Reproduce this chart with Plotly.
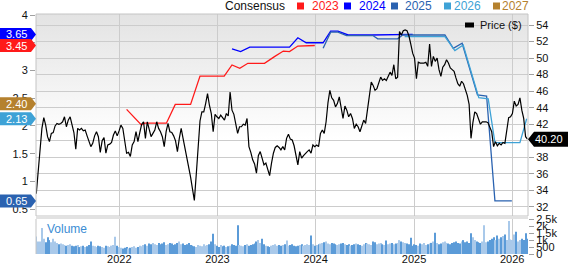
import base64
import pandas as pd
import plotly.graph_objects as go

# ---------------- data ----------------
price_start = "2021-02-26"  # weekly closes
price = [
    33.6, 36.0, 38.8, 41.5, 42.8, 41.9, 40.5, 39.9, 40.9, 41.0,
    41.8, 42.1, 42.0, 42.1, 42.3, 42.9, 41.7, 42.5, 42.9, 41.9,
    41.0, 39.0, 41.5, 41.3, 41.5, 41.2, 41.3, 40.6, 39.9, 39.3,
    39.7, 40.6, 41.1, 40.5, 38.6, 40.0, 40.4, 38.5, 39.5, 39.6,
    39.8, 40.7, 41.2, 40.6, 41.2, 41.9, 41.5, 39.9, 38.5, 38.6,
    38.1, 39.5, 39.9, 41.1, 39.9, 41.0, 42.0, 42.3, 40.3, 42.3,
    41.5, 40.5, 40.9, 41.3, 42.3, 41.5, 41.1, 40.5, 39.3, 41.1,
    42.1, 41.1, 41.0, 40.6, 40.0, 38.7, 40.3, 41.5, 40.3, 39.1,
    38.3, 37.0, 35.6, 34.2, 32.8, 35.9, 39.5, 42.4, 43.5, 43.5,
    44.5, 45.7, 44.3, 43.3, 41.1, 43.2, 42.9, 42.7, 43.1, 42.8,
    42.5, 43.3, 43.0, 45.9, 43.7, 43.2, 42.1, 40.9, 41.7, 41.7,
    42.0, 41.9, 42.7, 39.3, 38.6, 37.7, 37.2, 36.1, 38.2, 38.7,
    37.9, 37.1, 37.3, 36.5, 35.8, 37.3, 38.5, 39.2, 39.4, 39.2,
    38.9, 39.3, 38.9, 40.3, 40.8, 40.2, 40.1, 39.4, 38.2, 37.1,
    38.7, 37.9, 38.2, 38.5, 38.7, 38.9, 38.5, 39.5, 39.3, 39.5,
    39.3, 40.9, 41.3, 40.9, 42.3, 44.6, 46.1, 45.2, 44.9, 44.1,
    44.5, 45.3, 44.2, 42.7, 44.2, 43.7, 42.9, 43.3, 42.7, 41.5,
    42.0, 41.7, 41.1, 41.9, 42.5, 42.1, 43.7, 45.6, 47.1, 46.7,
    46.1, 46.3, 47.1, 47.7, 47.3, 47.5, 47.3, 47.8, 48.3, 47.9,
    49.2, 47.5, 47.7, 53.2, 52.8, 53.3, 53.4, 53.3, 52.7, 51.7,
    50.6, 50.0, 47.5, 49.5, 49.4, 49.4, 49.4, 49.5, 49.0, 51.7,
    49.0, 50.2, 49.6, 50.0, 48.6, 47.8, 48.9, 49.2, 49.8, 49.4,
    48.8, 48.6, 48.4, 47.6, 46.9, 46.6, 47.2, 46.9, 46.2, 45.5,
    44.4, 40.3, 42.2, 43.5, 43.3, 42.6, 42.0, 42.3, 42.3, 42.3,
    42.2, 41.6, 41.1, 39.3, 39.9, 39.4, 39.7, 39.5, 39.8, 39.7,
    41.2, 42.8, 42.9, 43.3, 44.8, 44.2, 44.4, 45.2, 43.7, 42.7,
    40.5, 40.2,
]
volume = [
    1260, 900, 900, 1870, 1100, 850, 1200, 1000, 850, 1100,
    900, 800, 700, 750, 700, 650, 600, 650, 700, 600,
    550, 600, 650, 500, 550, 600, 500, 550, 650, 900,
    600, 550, 500, 600, 550, 500, 450, 600, 550, 500,
    600, 650, 1250, 600, 500, 450, 400, 450, 500, 400,
    450, 500, 550, 450, 500, 600, 550, 650, 700, 600,
    750, 700, 800, 700, 650, 800, 700, 750, 850, 650,
    700, 800, 750, 650, 700, 800, 900, 700, 750, 650,
    700, 800, 650, 600, 550, 500, 650, 600, 550, 700,
    600, 650, 700, 900, 1460, 700, 600, 500, 650, 550,
    600, 500, 550, 600, 700, 650, 600, 2070, 650, 600,
    550, 650, 700, 600, 650, 700, 750, 900, 1000, 800,
    1100, 700, 600, 550, 500, 600, 650, 700, 600, 650,
    600, 650, 700, 970, 600, 650, 700, 600, 550, 600,
    650, 700, 600, 650, 700, 650, 1340, 700, 600, 650,
    700, 750, 800, 850, 900, 750, 700, 800, 750, 700,
    650, 700, 750, 800, 700, 650, 700, 600, 650, 700,
    750, 700, 650, 600, 700, 800, 750, 700, 650, 900,
    850, 700, 750, 800, 700, 650, 970, 700, 750, 800,
    700, 750, 800, 1000, 900, 850, 800, 750, 700, 1170,
    600, 700, 650, 600, 750, 700, 800, 650, 700, 750,
    800, 900, 1530, 800, 700, 750, 850, 900, 800, 750,
    700, 800, 850, 900, 800, 750, 900, 1000, 850, 900,
    800, 1500, 1200, 1000, 900, 850, 800, 900, 2070, 850,
    900, 1000, 1100, 1200, 1000, 1340, 1100, 1200, 1300, 1400,
    1000, 2380, 1050, 1000, 1400, 1600, 900, 1000, 1100, 1000,
    1500, 1100,
]

eps_2023_dates = ["2022-01-28", "2022-03-24", "2022-04-05", "2022-06-25", "2022-07-28",
                  "2022-09-23", "2022-10-28", "2023-01-26", "2023-02-24", "2023-03-25",
                  "2023-04-24", "2023-06-25", "2023-08-01", "2023-09-03", "2023-09-26",
                  "2023-10-27", "2023-12-29"]
eps_2023 = [2.30, 2.02, 2.05, 2.05, 2.39, 2.39, 2.90, 2.90, 3.10, 3.04,
            3.13, 3.13, 3.25, 3.35, 3.34, 3.44, 3.45]

eps_2024_dates = ["2023-02-24", "2023-03-28", "2023-05-01", "2023-09-26", "2023-10-27",
                  "2023-11-27", "2024-01-29", "2024-02-26", "2024-03-24", "2024-05-01",
                  "2024-07-27", "2024-12-27"]
eps_2024 = [3.39, 3.34, 3.42, 3.42, 3.59, 3.50, 3.50, 3.71, 3.71, 3.64, 3.64, 3.65]

eps_2025_dates = ["2024-01-29", "2024-02-26", "2024-03-24", "2024-04-25", "2024-08-01",
                  "2024-08-19", "2024-11-01", "2024-11-20", "2025-04-26", "2025-05-27",
                  "2025-06-29", "2025-08-25", "2025-09-28", "2025-10-29", "2025-12-31"]
eps_2025 = [3.40, 3.69, 3.69, 3.63, 3.63, 3.57, 3.57, 3.64, 3.64, 3.40,
            3.49, 2.56, 2.54, 0.65, 0.65]

eps_2026_dates = ["2024-11-27", "2025-04-26", "2025-06-02", "2025-07-03", "2025-08-30",
                  "2025-10-04", "2025-10-29", "2026-01-30", "2026-02-24"]
eps_2026 = [3.61, 3.61, 3.36, 3.46, 2.51, 2.49, 1.70, 1.70, 2.13]

eps_2027_dates = ["2026-02-24"]
eps_2027 = [2.40]

year_ticks = ["2022-01-01", "2023-01-01", "2024-01-01", "2025-01-01", "2026-01-01"]
year_labels = ["2022", "2023", "2024", "2025", "2026"]
eps_ticks = [0.5, 1, 1.5, 2, 2.5, 3, 3.5, 4]
eps_tick_labels = ["0.5", "1", "1.5", "2", "2.5", "3", "3.5", "4"]
vol_ticks = [0, 500, 1000, 1500, 2000, 2500]
vol_tick_labels = ["0", "500", "1k", "1.5k", "2k", "2.5k"]

# ---------------- style / layout ----------------
W, H = 568, 264
ML, MR, MT, MB = 36, 40, 14, 10
PW, PH = W - ML - MR, H - MT - MB
FONT = "Liberation Sans, Arial, sans-serif"


def px(x):
    return (x - ML) / PW


def py(y):
    return (H - MB - y) / PH


PRICE_DOM = [py(216), 1]
VOL_DOM = [0, py(219)]

series = [
    ("2023", eps_2023_dates, eps_2023, "#ff1a1a"),
    ("2024", eps_2024_dates, eps_2024, "#0000ff"),
    ("2025", eps_2025_dates, eps_2025, "#2a62b0"),
    ("2026", eps_2026_dates, eps_2026, "#3ea2d6"),
    ("2027", eps_2027_dates, eps_2027, "#b5812e"),
]

week_dates = pd.date_range(price_start, periods=len(price), freq="7D")

fig = go.Figure()

for name, d, v, c in series:
    fig.add_trace(go.Scatter(x=d, y=v, mode="lines", line=dict(color=c, width=1.3),
                             xaxis="x", yaxis="y", showlegend=False, hoverinfo="skip"))

vol_colors = ["#a9c9ea" if i == 0 or price[i] >= price[i - 1] else "#5b9bd8"
              for i in range(len(volume))]
fig.add_trace(go.Bar(x=week_dates, y=volume, marker=dict(color=vol_colors, line=dict(width=0)),
                     xaxis="x", yaxis="y3", showlegend=False, hoverinfo="skip"))

fig.add_trace(go.Scatter(x=week_dates, y=price, mode="lines", line=dict(color="#000000", width=1.2),
                         xaxis="x", yaxis="y2", showlegend=False, hoverinfo="skip"))

svg = ('<svg xmlns="http://www.w3.org/2000/svg" width="100" height="100" preserveAspectRatio="none">'
       '<defs><linearGradient id="g" x1="0" y1="0" x2="0" y2="1">'
       '<stop offset="0" stop-color="#e3e3e3"/><stop offset="0.62" stop-color="#ffffff"/>'
       '</linearGradient></defs><rect width="100" height="100" fill="url(#g)"/></svg>')
bg_src = "data:image/svg+xml;base64," + base64.b64encode(svg.encode()).decode()

shapes = []
annotations = []

# pane frames
shapes.append(dict(type="rect", xref="paper", yref="paper", x0=0, x1=1, y0=PRICE_DOM[0], y1=1,
                   line=dict(color="#c4c4c4", width=1), layer="above"))
shapes.append(dict(type="rect", xref="paper", yref="paper", x0=0, x1=1, y0=VOL_DOM[1], y1=PRICE_DOM[0],
                   fillcolor="#e2e2e2", line=dict(width=0), layer="above"))
shapes.append(dict(type="line", xref="paper", yref="paper", x0=0, x1=0, y0=0, y1=VOL_DOM[1],
                   line=dict(color="#c4c4c4", width=1), layer="above"))

# top legend
LEG_Y = 6
annotations.append(dict(xref="paper", yref="paper", x=px(223), y=py(LEG_Y), xanchor="left", yanchor="middle",
                        text="Consensus", showarrow=False, font=dict(family=FONT, size=12, color="#111")))
legend_pos = {"2023": (297, 310), "2024": (344, 357), "2025": (391, 403), "2026": (444, 452), "2027": (493, 500)}
for name, d, v, c in series:
    sx, tx = legend_pos[name]
    shapes.append(dict(type="rect", xref="paper", yref="paper", x0=px(sx), x1=px(sx + 7),
                       y0=py(LEG_Y + 3.5), y1=py(LEG_Y - 3.5), fillcolor=c, line=dict(width=0)))
    annotations.append(dict(xref="paper", yref="paper", x=px(tx), y=py(LEG_Y), xanchor="left",
                            yanchor="middle", text=name, showarrow=False,
                            font=dict(family=FONT, size=12, color=c)))

# price legend
shapes.append(dict(type="rect", xref="paper", yref="paper", x0=px(465), x1=px(474), y0=py(27.5),
                   y1=py(22.5), fillcolor="#000", line=dict(width=0)))
annotations.append(dict(xref="paper", yref="paper", x=px(478), y=py(25), xanchor="left", yanchor="middle",
                        text="Price ($)", showarrow=False, font=dict(family=FONT, size=11, color="#111")))

# volume label
annotations.append(dict(xref="paper", yref="paper", x=px(45), y=py(229), xanchor="left", yanchor="middle",
                        text="Volume", showarrow=False, font=dict(family=FONT, size=12, color="#3b8dd4")))

# last-value tags on the left (consensus)
order = ["2024", "2023", "2027", "2026", "2025"]
smap = {s[0]: s for s in series}
for name in order:
    _, d, v, c = smap[name]
    last = v[-1]
    shapes.append(dict(type="path", xref="paper", yref="y", xsizemode="pixel", ysizemode="pixel",
                       xanchor=0, yanchor=last, path="M -36 -6.5 L -5 -6.5 L 0 0 L -5 6.5 L -36 6.5 Z",
                       fillcolor=c, line=dict(width=0), layer="above"))
    annotations.append(dict(xref="paper", yref="y", x=px(16), y=last, xanchor="center", yanchor="middle",
                            text=f"{last:.2f}", showarrow=False,
                            font=dict(family=FONT, size=11, color="#ffffff")))

# last price tag on the right
last_price = price[-1]
shapes.append(dict(type="path", xref="paper", yref="y2", xsizemode="pixel", ysizemode="pixel",
                   xanchor=1, yanchor=last_price, path="M 0 0 L 6 -7.5 L 40 -7.5 L 40 7.5 L 6 7.5 Z",
                   fillcolor="#000000", line=dict(width=0), layer="above"))
annotations.append(dict(xref="paper", yref="y2", x=px(549), y=last_price, xanchor="center", yanchor="middle",
                        text=f"{last_price:.2f}", showarrow=False,
                        font=dict(family=FONT, size=11, color="#ffffff")))

tickfont = dict(family=FONT, size=11, color="#111")
fig.update_layout(
    width=W, height=H, margin=dict(l=ML, r=MR, t=MT, b=MB, pad=0, autoexpand=False),
    paper_bgcolor="#ffffff", plot_bgcolor="rgba(0,0,0,0)",
    showlegend=False, bargap=0.4,
    images=[dict(source=bg_src, xref="paper", yref="paper", x=0, y=1, sizex=1,
                 sizey=1 - PRICE_DOM[0], xanchor="left", yanchor="top", sizing="stretch", layer="below")],
    xaxis=dict(domain=[0, 1], range=["2021-02-25", "2026-03-01"], anchor="y3", automargin=False,
               tickvals=year_ticks, ticktext=year_labels, ticks="", showgrid=True, ticklabelstandoff=-3,
               gridcolor="#cccccc", gridwidth=1, showline=False, zeroline=False, tickfont=tickfont),
    yaxis=dict(domain=PRICE_DOM, range=[0.378, 4.018], side="left", tickvals=eps_ticks, automargin=False,
               ticktext=eps_tick_labels, ticks="outside", ticklen=5, tickcolor="#a0a0a0",
               showgrid=False, zeroline=False, showline=False, tickfont=tickfont),
    yaxis2=dict(overlaying="y", side="right", range=[30.91, 55.33], dtick=2, tick0=0, automargin=False,
                ticks="outside", ticklen=5, tickcolor="#a0a0a0", showgrid=True, gridcolor="#cccccc",
                gridwidth=1, zeroline=False, showline=False, tickfont=tickfont, anchor="x"),
    yaxis3=dict(domain=VOL_DOM, range=[0, 2520], side="right", tickvals=vol_ticks, automargin=False,
                ticktext=vol_tick_labels, ticks="outside", ticklen=5, tickcolor="#a0a0a0",
                showgrid=False, zeroline=False, showline=False, anchor="x",
                tickfont=dict(family=FONT, size=11, color="#111")),
    shapes=shapes, annotations=annotations,
)

fig.write_html("out.html")
